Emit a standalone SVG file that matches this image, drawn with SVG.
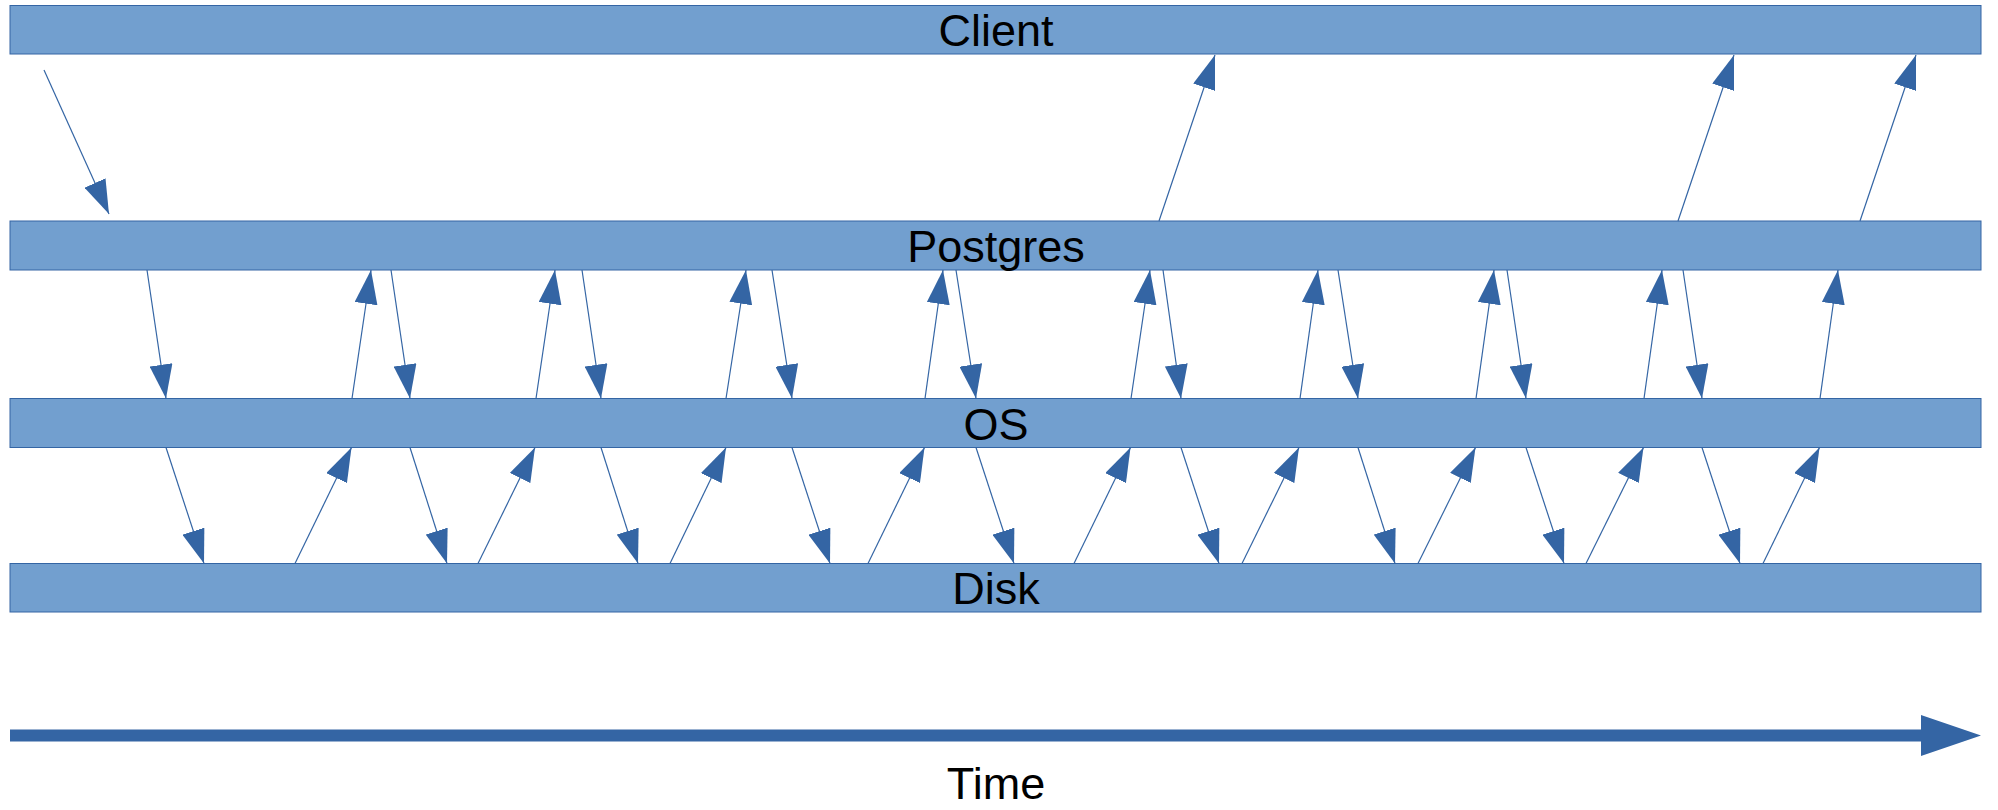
<svg xmlns="http://www.w3.org/2000/svg" width="1998" height="810" viewBox="0 0 1998 810">
<style>
.bar{fill:#729fcf;stroke:#3465a4;stroke-width:1}
.lbl{font-family:"Liberation Sans",Arial,sans-serif;font-size:45px;fill:#000;text-anchor:middle}
.c{stroke:#3465a4;stroke-width:1.2;fill:none;marker-end:url(#ah)}
</style>
<defs>
<marker id="ah" markerUnits="userSpaceOnUse" markerWidth="34" markerHeight="23" viewBox="0 0 34 23" refX="34" refY="11.5" orient="auto">
<path d="M0,0 L34,11.5 L0,23 Z" fill="#3465a4"/>
</marker>
</defs>
<rect width="1998" height="810" fill="#fff"/>
<g id="client"><rect class="bar" x="10" y="5.5" width="1971" height="48.5"/><text class="lbl" x="996" y="46">Client</text></g>
<g id="postgres"><rect class="bar" x="10" y="221" width="1971" height="49"/><text class="lbl" x="996" y="262">Postgres</text></g>
<g id="os"><rect class="bar" x="10" y="398.5" width="1971" height="49"/><text class="lbl" x="996" y="440">OS</text></g>
<g id="disk"><rect class="bar" x="10" y="563.5" width="1971" height="48.5"/><text class="lbl" x="996" y="604">Disk</text></g>
<g id="time"><polygon points="10,729.5 1921,729.5 1921,715 1981,735.5 1921,756 1921,741.5 10,741.5" fill="#3465a4"/><text class="lbl" x="996" y="799">Time</text></g>
<g id="connectors">
<line class="c" x1="44" y1="70" x2="109" y2="214"/>
<line class="c" x1="1159" y1="221" x2="1215" y2="55"/>
<line class="c" x1="1678" y1="221" x2="1734" y2="55"/>
<line class="c" x1="1860" y1="221" x2="1916" y2="55"/>
<line class="c" x1="147" y1="270" x2="166" y2="398.5"/>
<line class="c" x1="391" y1="270" x2="410" y2="398.5"/>
<line class="c" x1="582" y1="270" x2="601" y2="398.5"/>
<line class="c" x1="772" y1="270" x2="792" y2="398.5"/>
<line class="c" x1="956" y1="270" x2="976" y2="398.5"/>
<line class="c" x1="1163" y1="270" x2="1181" y2="398.5"/>
<line class="c" x1="1338" y1="270" x2="1358" y2="398.5"/>
<line class="c" x1="1507" y1="270" x2="1526" y2="398.5"/>
<line class="c" x1="1683" y1="270" x2="1702" y2="398.5"/>
<line class="c" x1="166" y1="447.5" x2="204" y2="563.5"/>
<line class="c" x1="410" y1="447.5" x2="447" y2="563.5"/>
<line class="c" x1="601" y1="447.5" x2="638" y2="563.5"/>
<line class="c" x1="792" y1="447.5" x2="830" y2="563.5"/>
<line class="c" x1="976" y1="447.5" x2="1014" y2="563.5"/>
<line class="c" x1="1181" y1="447.5" x2="1219" y2="563.5"/>
<line class="c" x1="1358" y1="447.5" x2="1395" y2="563.5"/>
<line class="c" x1="1526" y1="447.5" x2="1564" y2="563.5"/>
<line class="c" x1="1702" y1="447.5" x2="1740" y2="563.5"/>
<line class="c" x1="295" y1="563.5" x2="351.5" y2="447.5"/>
<line class="c" x1="478" y1="563.5" x2="535" y2="447.5"/>
<line class="c" x1="670" y1="563.5" x2="726" y2="447.5"/>
<line class="c" x1="868" y1="563.5" x2="924.5" y2="447.5"/>
<line class="c" x1="1074" y1="563.5" x2="1130.5" y2="447.5"/>
<line class="c" x1="1242" y1="563.5" x2="1299" y2="447.5"/>
<line class="c" x1="1418" y1="563.5" x2="1475.5" y2="447.5"/>
<line class="c" x1="1586" y1="563.5" x2="1643.5" y2="447.5"/>
<line class="c" x1="1763" y1="563.5" x2="1819.5" y2="447.5"/>
<line class="c" x1="352" y1="398.5" x2="371" y2="270"/>
<line class="c" x1="536" y1="398.5" x2="555" y2="270"/>
<line class="c" x1="726" y1="398.5" x2="746" y2="270"/>
<line class="c" x1="925" y1="398.5" x2="943" y2="270"/>
<line class="c" x1="1131" y1="398.5" x2="1150" y2="270"/>
<line class="c" x1="1300" y1="398.5" x2="1318" y2="270"/>
<line class="c" x1="1476" y1="398.5" x2="1494" y2="270"/>
<line class="c" x1="1644" y1="398.5" x2="1662" y2="270"/>
<line class="c" x1="1820" y1="398.5" x2="1838" y2="270"/>
</g>
</svg>
